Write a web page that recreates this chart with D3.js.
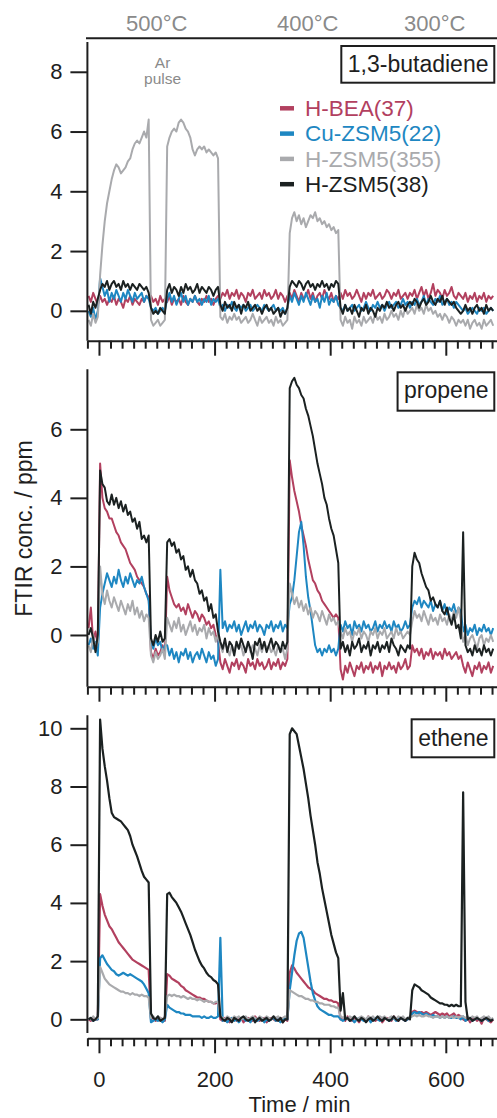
<!DOCTYPE html>
<html>
<head>
<meta charset="utf-8">
<style>
body { margin: 0; background: #fff; }
svg { display: block; font-family: "Liberation Sans", Arial, Helvetica, sans-serif; }
</style>
</head>
<body>
<svg width="497" height="1118"></svg>
<script src="https://d3js.org/d3.v7.min.js"></script>
<script>

// FTIR spectra, one value every 4 min starting at t = -18 min
var t0 = -18, dt = 4;

var series = ["H-BEA(37)", "Cu-ZSM5(22)", "H-ZSM5(355)", "H-ZSM5(38)"],
    colors = ["#b2405f", "#1e87c2", "#a9aaad", "#1b2121"];

var panelNames = ["1,3-butadiene", "propene", "ethene"];
var temps = ["500°C", "400°C", "300°C"],
    tempAt = [100, 361, 581];   // min
var pulseAt = 110;              // min, "Ar pulse" note
var xTicksMajor = [0, 200, 400, 600];
var yTicks = [[0, 2, 4, 6, 8], [0, 2, 4, 6], [0, 2, 4, 6, 8, 10]];

// ---- 1,3-butadiene (ppm)
var butaRed = [
  0.5, 0.3, 0.6, 0.4, 0.2,
  0.5, 0.3, 0.4, 0.2, 0.4, 0.3, 0.5, 0.2, 0.4, 0.3, 0.1, 0.4, 0.3, 0.5, 0.2, 0.4, 0.3, 0.2, 0.4, 0.3, 0.5, 0.4,
  0.5, 0.3, 0.4, 0.2, 0.5, 0.3, 0.4,
  0.3, 0.5, 0.2, 0.4, 0.3, 0.4, 0.2, 0.5, 0.3, 0.2, 0.4, 0.3, 0.5, 0.3, 0.2, 0.4, 0.3, 0.5, 0.3, 0.4, 0.2, 0.4, 0.5,
  0.4, 0.6, 0.5, 0.7, 0.4, 0.6, 0.5, 0.7, 0.4, 0.6, 0.5, 0.3, 0.6, 0.5, 0.7, 0.4, 0.5, 0.6, 0.4, 0.7, 0.5, 0.6, 0.4, 0.5, 0.7, 0.4, 0.6, 0.5, 0.3, 0.5,
  0.6, 0.4, 0.7, 0.5, 0.3, 0.6, 0.4, 0.5, 0.7, 0.4, 0.6, 0.3, 0.5, 0.6, 0.4, 0.7, 0.5, 0.4, 0.6, 0.3, 0.5, 0.4,
  0.6, 0.4, 0.7, 0.5, 0.6, 0.4, 0.5, 0.7, 0.5, 0.3, 0.6, 0.4, 0.6, 0.5, 0.7, 0.4, 0.5, 0.6, 0.4, 0.5, 0.7, 0.6, 0.4, 0.6, 0.5, 0.7, 0.4, 0.5, 0.6, 0.4, 0.6,
  0.5, 0.7, 0.4, 0.6, 0.8, 0.5, 0.7, 0.4, 0.6, 0.9, 0.5, 0.7, 0.6, 0.4, 0.7, 0.5, 0.6, 0.8, 0.5, 0.4, 0.6, 0.5,
  0.4, 0.6, 0.3, 0.5, 0.4, 0.6, 0.3, 0.5, 0.4, 0.6, 0.3, 0.5, 0.4, 0.5
];
var butaBlue = [
  0.0, -0.2, 0.1, -0.3, 0.0,
  1.1, 0.8, 0.5, 0.7, 0.3, 0.6, 0.4, 0.7, 0.5, 0.3, 0.6, 0.4, 0.7, 0.5, 0.3, 0.6, 0.4, 0.5, 0.6, 0.3, 0.5, 0.4,
  0.1, 0.0, 0.1, -0.1, 0.0, 0.1, 0.0,
  0.4, 0.6, 0.3, 0.5, 0.2, 0.4, 0.6, 0.3, 0.5, 0.2, 0.4, 0.3, 0.5, 0.3, 0.4, 0.2, 0.4, 0.3, 0.5, 0.2, 0.4, 0.3, 0.4,
  0.1, 0.2, 0.0, 0.2, 0.1, 0.3, 0.1, 0.0, 0.2, 0.1, 0.2, 0.0, 0.1, 0.2, 0.0, 0.1, 0.2, 0.1, 0.0, 0.2, 0.1, 0.0, 0.1, 0.2, 0.0, 0.1, 0.0, 0.1, -0.1, 0.1,
  0.5, 0.3, 0.6, 0.4, 0.2, 0.5, 0.3, 0.6, 0.4, 0.2, 0.5, 0.3, 0.4, 0.1, 0.5, 0.3, 0.6, 0.2, 0.4, 0.3, 0.5, 0.2,
  0.1, 0.0, 0.2, 0.0, 0.1, 0.2, 0.0, 0.1, 0.2, 0.0, 0.1, 0.3, 0.1, 0.0, 0.2, 0.1, 0.3, 0.1, 0.2, 0.0, 0.2, 0.3, 0.1, 0.2, 0.3, 0.1, 0.2, 0.4, 0.2, 0.3, 0.1,
  0.3, 0.2, 0.4, 0.2, 0.3, 0.5, 0.2, 0.4, 0.3, 0.2, 0.4, 0.3, 0.5, 0.2, 0.3, 0.4, 0.2, 0.3, 0.1, 0.3, 0.2, 0.1,
  0.0, 0.1, -0.1, 0.0, 0.1, 0.0, -0.1, 0.1, 0.0, 0.1, -0.1, 0.0, 0.1, 0.0
];
var butaGray = [
  -0.3, -0.5, -0.1, -0.4, -0.2,
  1.2, 2.2, 3.0, 3.6, 4.0, 4.4, 4.7, 4.9, 4.8, 4.6, 4.7, 4.8, 5.0, 5.1, 5.4, 5.6, 5.7, 5.6, 5.8, 6.0, 5.8, 6.4,
  -0.3, -0.5, -0.4, -0.3, -0.5, -0.4, -0.3,
  5.5, 5.8, 6.0, 6.1, 6.0, 6.3, 6.4, 6.3, 6.1, 6.0, 5.8, 5.4, 5.2, 5.4, 5.5, 5.4, 5.5, 5.3, 5.4, 5.3, 5.2, 5.3, 5.1,
  -0.2, -0.3, -0.1, -0.4, -0.2, -0.3, -0.1, -0.3, -0.2, -0.4, -0.3, -0.2, -0.4, -0.3, -0.1, -0.3, -0.5, -0.2, -0.4, -0.3, -0.2, -0.4, -0.3, -0.5, -0.2, -0.4, -0.3, -0.5, -0.4, -0.3,
  2.6, 3.1, 3.3, 3.0, 3.2, 2.9, 3.1, 2.8, 3.0, 3.2, 3.1, 3.3, 3.0, 3.1, 2.9, 3.0, 2.8, 2.9, 2.7, 2.8, 2.6, 2.7,
  -0.3, -0.5, -0.2, -0.4, -0.3, -0.6, -0.2, -0.4, -0.3, -0.5, -0.2, -0.4, -0.3, -0.2, -0.4, -0.1, -0.3, -0.2, -0.4, -0.1, -0.3, -0.2, 0.0, -0.2, -0.1, -0.3, 0.0, -0.2, 0.1, -0.1, 0.0,
  0.1, -0.1, 0.2, 0.0, 0.1, -0.1, 0.2, 0.0, 0.1, -0.1, 0.0, -0.2, -0.1, -0.3, -0.1, -0.2, -0.4, -0.2, -0.3, -0.5, -0.3, -0.4,
  -0.3, -0.5, -0.3, -0.6, -0.4, -0.3, -0.5, -0.4, -0.6, -0.3, -0.5, -0.4, -0.3, -0.5
];
var butaBlack = [
  0.2, -0.1, 0.3, 0.1, 0.4,
  0.7, 0.9, 0.8, 1.0, 0.7, 0.9, 1.0, 0.8, 0.9, 0.7, 1.0, 0.8, 0.9, 0.7, 0.9, 0.8, 0.7, 0.9, 0.8, 0.7, 0.8, 0.6,
  0.1, -0.1, 0.0, -0.1, 0.1, 0.0, -0.1,
  0.7, 0.9, 0.6, 0.8, 0.7, 0.5, 0.8, 0.6, 0.9, 0.7, 0.8, 0.6, 0.7, 0.9, 0.6, 0.8, 0.7, 0.6, 0.8, 0.7, 0.5, 0.7, 0.8,
  0.2, 0.0, 0.3, 0.1, 0.2, 0.0, 0.3, 0.1, 0.2, -0.1, 0.2, 0.1, 0.3, 0.0, 0.1, 0.2, 0.0, 0.1, -0.1, 0.1, 0.2, 0.0, 0.1, -0.1, 0.0, 0.1, -0.2, 0.0, -0.1, 0.1,
  0.8, 1.0, 0.9, 0.8, 1.0, 0.9, 0.7, 0.9, 1.0, 0.8, 0.9, 0.7, 0.9, 0.8, 1.0, 0.8, 0.9, 0.7, 0.9, 0.8, 1.0, 0.9,
  0.1, -0.1, 0.2, 0.0, 0.1, -0.1, 0.2, 0.0, -0.2, 0.1, 0.0, 0.2, -0.1, 0.1, 0.0, -0.2, 0.1, 0.0, 0.2, 0.1, 0.3, 0.1, 0.2, 0.0, 0.2, 0.3, 0.1, 0.2, 0.0, 0.2, 0.3,
  0.2, 0.4, 0.3, 0.1, 0.3, 0.4, 0.2, 0.3, 0.5, 0.3, 0.2, 0.4, 0.3, 0.5, 0.2, 0.4, 0.3, 0.2, 0.3, 0.1, 0.0, -0.1,
  0.0, 0.2, 0.0, 0.1, -0.1, 0.1, 0.2, 0.0, 0.1, -0.1, 0.2, 0.0, 0.1, 0.0
];

// ---- propene (ppm)
var propRed = [
  0.2, 0.8, -0.2, 0.1, -0.3,
  5.0, 4.0, 3.7, 3.6, 3.4, 3.4, 3.2, 3.0, 2.9, 2.7, 2.6, 2.5, 2.3, 2.1, 2.0, 1.9, 1.7, 1.6, 1.5, 1.4, 1.2, 1.1,
  -0.5, -0.7, -0.4, -0.6, -0.5, -0.3, -0.6,
  1.7, 1.3, 1.1, 0.9, 0.8, 0.9, 0.7, 0.8, 0.6, 0.9, 0.7, 0.5, 0.7, 0.6, 0.4, 0.6, 0.5, 0.3, 0.4, 0.2, 0.3, 0.0, -0.2,
  -0.8, -1.0, -0.7, -0.9, -1.1, -0.8, -0.9, -0.7, -1.0, -0.8, -0.9, -1.1, -0.7, -0.9, -0.8, -1.0, -0.7, -0.9, -0.8, -1.0, -0.9, -0.7, -1.0, -0.8, -0.9, -0.7, -1.0, -0.8, -0.9, -0.7,
  5.1, 4.6, 4.2, 3.9, 3.6, 3.2, 2.9, 2.6, 2.2, 1.9, 1.6, 1.5, 1.3, 1.2, 1.0, 0.9, 0.8, 0.7, 0.6, 0.5, 0.6, 0.5,
  -1.0, -1.3, -0.9, -1.1, -0.8, -1.0, -1.2, -0.9, -1.0, -0.8, -1.1, -0.9, -1.0, -0.8, -1.1, -0.9, -1.0, -0.8, -1.2, -0.9, -1.0, -0.8, -1.0, -0.9, -1.1, -0.8, -1.0, -0.9, -0.7, -1.0, -0.9,
  -0.3, -0.5, -0.4, -0.6, -0.4, -0.7, -0.5, -0.6, -0.4, -0.7, -0.5, -0.6, -0.5, -0.7, -0.4, -0.6, -0.5, -0.7, -0.6, -0.5, -0.7, -0.6,
  -0.9, -1.1, -0.8, -1.0, -1.2, -0.9, -1.0, -0.8, -1.1, -0.9, -1.0, -0.8, -1.1, -0.9
];
var propBlue = [
  -0.3, -0.1, -0.4, -0.2, -0.6,
  0.8, 1.2, 1.5, 1.8, 1.6, 1.4, 1.7, 1.5, 1.9, 1.6, 1.4, 1.7, 1.5, 1.8, 1.6, 1.4, 1.6, 1.5, 1.7, 1.4, 1.2, 1.0,
  -0.2, -0.4, -0.1, -0.3, -0.2, -0.5, -0.3,
  -0.3, -0.6, -0.4, -0.7, -0.5, -0.8, -0.5, -0.6, -0.4, -0.7, -0.5, -0.8, -0.6, -0.5, -0.7, -0.4, -0.6, -0.8, -0.5, -0.7, -0.6, -0.9, -0.7,
  1.9, 0.2, 0.4, 0.1, 0.3, 0.2, 0.4, 0.1, 0.3, 0.0, 0.2, 0.4, 0.1, 0.3, 0.2, 0.4, 0.1, 0.3, 0.2, 0.0, 0.3, 0.2, 0.4, 0.1, 0.3, 0.2, 0.4, 0.1, 0.3, 0.2,
  0.9, 1.1, 1.6, 2.3, 3.0, 3.3, 2.6, 1.7, 1.1, 0.7, 0.2, -0.3, -0.5, -0.4, -0.6, -0.4, -0.5, -0.3, -0.5, -0.4, -0.6, -0.4,
  0.3, 0.1, 0.4, 0.2, 0.3, 0.0, 0.4, 0.2, 0.3, 0.1, 0.4, 0.2, 0.3, 0.1, 0.2, 0.4, 0.1, 0.3, 0.2, 0.4, 0.2, 0.3, 0.1, 0.4, 0.2, 0.3, 0.1, 0.2, 0.4, 0.2, 0.3,
  0.8, 1.0, 0.9, 1.1, 0.8, 1.0, 0.9, 0.8, 1.0, 0.7, 0.9, 0.8, 1.0, 0.7, 0.9, 0.6, 0.8, 0.7, 0.9, 0.6, 0.8, 0.7,
  0.1, 0.3, 0.0, 0.2, 0.1, 0.3, 0.0, 0.2, 0.1, 0.3, 0.1, 0.2, 0.0, 0.2
];
var propGray = [
  -0.3, -0.5, 0.0, -0.4, -0.2,
  2.0, 1.2, 0.9, 1.3, 1.0, 0.8, 1.1, 0.9, 0.7, 1.0, 0.8, 0.6, 0.9, 0.7, 1.0, 0.6, 0.8, 0.5, 0.7, 0.4, 0.6, 0.5,
  -0.6, -0.8, -0.5, -0.7, -0.6, -0.4, -0.7,
  0.5, 0.3, 0.1, 0.4, 0.2, 0.5, 0.1, 0.3, 0.0, 0.2, 0.4, 0.1, 0.3, 0.0, 0.2, 0.1, 0.3, -0.1, 0.2, 0.0, 0.1, -0.2, 0.0,
  -0.3, -0.5, -0.2, -0.4, -0.6, -0.3, -0.5, -0.2, -0.4, -0.3, -0.6, -0.4, -0.2, -0.5, -0.3, -0.4, -0.6, -0.3, -0.5, -0.2, -0.4, -0.3, -0.5, -0.4, -0.6, -0.3, -0.5, -0.4, -0.7, -0.4,
  1.5, 1.2, 0.9, 1.1, 0.8, 1.0, 0.7, 0.9, 0.6, 0.8, 0.5, 0.7, 0.6, 0.4, 0.7, 0.5, 0.3, 0.6, 0.4, 0.5, 0.3, 0.4,
  0.1, -0.1, 0.2, 0.0, 0.1, -0.2, 0.1, 0.0, 0.2, -0.1, 0.1, 0.0, -0.2, 0.1, 0.0, 0.2, -0.1, 0.1, 0.0, 0.2, -0.1, 0.0, 0.1, -0.1, 0.2, 0.0, 0.1, -0.1, 0.0, 0.1, 0.0,
  0.4, 0.7, 0.5, 0.6, 0.4, 0.7, 0.5, 0.3, 0.6, 0.4, 0.5, 0.3, 0.6, 0.4, 0.5, 0.3, 0.6, 0.4, 0.7, 0.5, 0.8, 0.4,
  -0.2, 0.0, -0.3, -0.1, 0.0, -0.2, -0.4, -0.1, 0.0, -0.3, -0.1, -0.2, 0.0, -0.2
];
var propBlack = [
  0.0, 0.2, -0.1, -0.5, 0.0,
  4.8, 4.4, 4.3, 3.9, 3.8, 4.1, 3.8, 4.0, 3.7, 3.9, 3.6, 3.8, 3.5, 3.6, 3.3, 3.4, 3.1, 3.3, 2.8, 2.9, 2.7, 2.9,
  -0.1, -0.3, 0.0, -0.2, 0.1, -0.2, -0.1,
  2.7, 2.8, 2.6, 2.7, 2.4, 2.5, 2.2, 2.3, 1.9, 2.0, 1.7, 1.9, 1.6, 1.5, 1.2, 1.3, 1.0, 1.1, 0.7, 0.9, 0.5, 0.6, 0.1,
  -0.2, -0.4, -0.1, -0.5, -0.2, -0.3, -0.6, -0.2, -0.4, -0.1, -0.3, -0.5, -0.2, -0.4, -0.7, -0.2, -0.3, -0.1, -0.4, -0.2, -0.5, -0.3, -0.1, -0.4, -0.2, -0.3, -0.5, -0.2, -0.4, -0.2,
  7.2, 7.4, 7.5, 7.3, 7.2, 7.0, 6.9, 6.6, 6.4, 6.1, 5.8, 5.4, 5.0, 4.7, 4.4, 4.0, 3.8, 3.4, 3.1, 2.9, 2.5, 2.1,
  -0.4, -0.2, -0.5, -0.3, -0.6, -0.2, -0.4, -0.3, -0.1, -0.5, -0.3, -0.4, -0.2, -0.6, -0.3, -0.4, -0.2, -0.5, -0.3, -0.4, -0.2, -0.5, -0.1, -0.3, -0.4, -0.6, -0.3, -0.4, -0.5, -0.3, -0.4,
  2.0, 2.4, 2.2, 2.1, 1.8, 1.6, 1.4, 1.3, 1.0, 1.1, 0.9, 0.8, 1.0, 0.7, 0.6, 0.8, 0.5, 0.3, 0.6, 0.2, 0.3, -0.1,
  3.0, -0.3, -0.5, -0.4, -0.6, -0.3, -0.5, -0.4, -0.6, -0.3, -0.5, -0.4, -0.6, -0.4
];

// ---- ethene (ppm)
var ethRed = [
  0.0, -0.05, 0.05, 0.0, 0.0,
  4.3, 3.9, 3.6, 3.4, 3.2, 3.1, 2.95, 2.8, 2.65, 2.55, 2.45, 2.35, 2.25, 2.15, 2.05, 2.0, 1.95, 1.9, 1.85, 1.8, 1.75, 1.7,
  0.0, 0.05, -0.05, 0.0, 0.05, 0.0, -0.05,
  1.55, 1.5, 1.4, 1.35, 1.3, 1.25, 1.15, 1.1, 1.0, 0.95, 0.9, 0.85, 0.8, 0.75, 0.75, 0.7, 0.7, 0.65, 0.6, 0.6, 0.55, 0.55, 0.6,
  0.0, -0.05, 0.05, 0.0, -0.1, 0.0, 0.05, -0.05, 0.0, 0.05, -0.1, 0.0, 0.05, 0.0, -0.05, 0.1, 0.0, -0.05, 0.0, 0.05, -0.1, 0.0, 0.05, 0.0, -0.05, 0.0, 0.05, -0.1, 0.0, -0.05,
  1.6, 1.85, 1.75, 1.6, 1.5, 1.4, 1.3, 1.2, 1.1, 1.05, 1.0, 0.9, 0.85, 0.8, 0.75, 0.7, 0.7, 0.65, 0.65, 0.6, 0.6, 0.55,
  0.0, 0.05, -0.05, 0.1, 0.0, -0.05, 0.05, 0.0, -0.1, 0.05, 0.0, -0.05, 0.1, 0.0, 0.05, -0.05, 0.0, 0.05, -0.1, 0.0, 0.05, 0.0, -0.05, 0.1, 0.0, -0.05, 0.05, 0.0, -0.05, 0.0, 0.05,
  0.25, 0.3, 0.25, 0.2, 0.25, 0.2, 0.25, 0.2, 0.15, 0.2, 0.25, 0.2, 0.15, 0.2, 0.15, 0.2, 0.1, 0.15, 0.2, 0.1, 0.15, 0.1,
  0.0, -0.05, 0.05, -0.1, 0.0, 0.05, -0.05, 0.0, -0.15, 0.05, 0.0, -0.05, -0.1, 0.0
];
var ethBlue = [
  0.0, 0.05, -0.05, 0.0, 0.0,
  2.1, 2.2, 2.05, 1.9, 1.8, 1.7, 1.65, 1.55, 1.5, 1.55, 1.6, 1.55, 1.5, 1.55, 1.5, 1.45, 1.4, 1.35, 1.3, 1.2, 1.05, 0.9,
  -0.1, -0.05, 0.0, -0.05, 0.0, -0.1, 0.0,
  0.5, 0.4, 0.35, 0.3, 0.25, 0.25, 0.2, 0.2, 0.15, 0.15, 0.15, 0.1, 0.1, 0.1, 0.1, 0.05, 0.1, 0.05, 0.05, 0.1, 0.05, 0.05, 0.1,
  2.8, -0.05, 0.0, -0.1, 0.0, 0.05, -0.05, 0.0, -0.1, 0.0, 0.05, -0.05, 0.0, -0.1, 0.05, 0.0, -0.05, 0.0, 0.05, -0.1, 0.0, -0.05, 0.0, 0.05, -0.05, 0.0, -0.1, 0.0, 0.05, 0.0,
  1.0, 1.6, 2.2, 2.7, 2.95, 3.0, 2.8, 2.3, 1.8, 1.3, 0.9, 0.65, 0.45, 0.35, 0.3, 0.25, 0.2, 0.15, 0.15, 0.1, 0.1, 0.1,
  0.0, -0.05, 0.0, 0.05, -0.05, 0.0, -0.1, 0.0, 0.05, 0.0, -0.05, 0.0, 0.05, -0.1, 0.0, 0.05, 0.0, -0.05, 0.0, 0.05, 0.0, -0.05, 0.0, 0.05, -0.05, 0.0, 0.05, 0.0, -0.05, 0.0, 0.05,
  0.2, 0.25, 0.2, 0.25, 0.2, 0.15, 0.2, 0.15, 0.1, 0.15, 0.1, 0.1, 0.05, 0.1, 0.05, 0.1, 0.05, 0.05, 0.1, 0.05, 0.05, 0.0,
  0.1, -0.05, 0.0, 0.05, -0.05, 0.0, 0.05, 0.0, -0.05, 0.0, 0.05, -0.05, 0.0, 0.0
];
var ethGray = [
  0.05, 0.0, 0.1, 0.0, 0.05,
  1.8, 1.6, 1.4, 1.3, 1.2, 1.15, 1.1, 1.05, 1.0, 0.95, 0.95, 0.9, 0.9, 0.85, 0.9, 0.85, 0.85, 0.8, 0.85, 0.8, 0.8, 0.75,
  0.05, 0.1, 0.0, 0.1, 0.05, 0.0, 0.1,
  0.8, 0.85, 0.8, 0.85, 0.8, 0.8, 0.75, 0.8, 0.75, 0.7, 0.75, 0.7, 0.7, 0.65, 0.7, 0.65, 0.6, 0.65, 0.6, 0.6, 0.55, 0.6, 0.6,
  0.1, 0.05, 0.0, 0.1, 0.05, 0.0, 0.1, 0.05, 0.1, 0.0, 0.05, 0.1, 0.0, 0.05, 0.1, 0.05, 0.0, 0.1, 0.05, 0.0, 0.1, 0.05, 0.0, 0.1, 0.05, 0.1, 0.0, 0.05, 0.1, 0.05,
  1.0, 0.95, 0.9, 0.85, 0.8, 0.8, 0.75, 0.7, 0.7, 0.65, 0.65, 0.6, 0.6, 0.55, 0.55, 0.5, 0.5, 0.5, 0.45, 0.45, 0.4, 0.4,
  0.1, 0.05, 0.1, 0.0, 0.1, 0.05, 0.1, 0.0, 0.05, 0.1, 0.05, 0.0, 0.1, 0.05, 0.1, 0.0, 0.05, 0.1, 0.05, 0.1, 0.0, 0.05, 0.1, 0.05, 0.0, 0.1, 0.05, 0.1, 0.0, 0.05, 0.1,
  0.1, 0.15, 0.1, 0.15, 0.1, 0.1, 0.15, 0.1, 0.1, 0.05, 0.1, 0.1, 0.05, 0.1, 0.05, 0.1, 0.05, 0.1, 0.05, 0.1, 0.05, 0.1,
  0.1, 0.05, 0.1, 0.0, 0.1, 0.05, 0.1, 0.0, 0.05, 0.1, 0.05, 0.1, 0.0, 0.05
];
var ethBlack = [
  0.0, 0.05, -0.05, 0.0, 0.1,
  10.3, 9.3, 8.7, 8.2, 7.6, 7.1, 6.95, 6.9, 6.85, 6.8, 6.7, 6.6, 6.5, 6.3, 6.0, 5.8, 5.6, 5.35, 5.1, 4.9, 4.8, 4.7,
  0.2, 0.05, 0.0, 0.1, -0.05, 0.0, 0.05,
  4.3, 4.35, 4.2, 4.1, 4.0, 3.85, 3.7, 3.5, 3.3, 3.1, 2.9, 2.65, 2.4, 2.2, 2.0, 1.85, 1.75, 1.6, 1.5, 1.45, 1.35, 1.3, 1.2,
  0.1, 0.0, -0.05, 0.05, 0.0, -0.1, 0.05, 0.0, -0.05, 0.05, 0.1, 0.0, -0.05, 0.0, 0.05, -0.1, 0.0, 0.05, -0.05, 0.0, 0.05, -0.05, 0.0, 0.1, 0.0, -0.05, 0.05, -0.1, 0.0, 0.0,
  9.8, 10.0, 9.9, 9.8, 9.4, 9.0, 8.6, 8.1, 7.6, 7.0, 6.5, 6.0, 5.4, 5.0, 4.5, 4.1, 3.7, 3.3, 2.9, 2.6, 2.3, 2.1,
  0.3, 0.9, 0.0, 0.05, -0.05, 0.0, 0.1, 0.0, -0.05, 0.05, 0.0, -0.1, 0.0, 0.05, -0.05, 0.0, 0.1, 0.0, -0.05, 0.05, 0.0, -0.05, 0.0, 0.1, 0.0, -0.05, 0.05, 0.0, -0.05, 0.05, 0.0,
  1.0, 1.2, 1.15, 1.1, 1.0, 0.95, 0.9, 0.85, 0.75, 0.7, 0.65, 0.6, 0.55, 0.55, 0.5, 0.5, 0.45, 0.5, 0.45, 0.5, 0.45, 0.45,
  7.8, 0.6, 0.0, 0.05, -0.05, 0.0, 0.05, 0.0, -0.05, 0.0, 0.05, 0.0, -0.05, 0.0
];

var panelData = [
  [butaRed, butaBlue, butaGray, butaBlack],
  [propRed, propBlue, propGray, propBlack],
  [ethRed, ethBlue, ethGray, ethBlack]
];

// ---------------------------------------------------------------
var svg = d3.select("svg"),
    ink = "#1e1e1e",
    grey = "#8a8a8a";

svg.append("rect").attr("width", 497).attr("height", 1118).attr("fill", "#fff");

var x = d3.scaleLinear().domain([-20, 700]).range([87.4, 503.6]);

// panel layout (pixels)
var layout = [
  {dom: [-1, 9],       top: 41.9,  bottom: 340.7, axisY: 340.7,  leftEnd: 340.7, boxY: 46,    boxH: 36.7, base: 71.7, lw: 2},
  {dom: [-1.5, 7.75],  top: 369.3, bottom: 686.4, axisY: 686.7,  leftEnd: 686.7, boxY: 372.3, boxH: 38.4, base: 398.3, lw: 2},
  {dom: [-0.47, 10.45],top: 715.2, bottom: 1033,  axisY: 1038.3, leftEnd: 1033,  boxY: 719.3, boxH: 38,   base: 746, lw: 2.2}
];

var minorTicks = d3.range(-20, 701, 20).filter(function(d) { return xTicksMajor.indexOf(d) < 0; });

layout.forEach(function(L, p) {
  var y = d3.scaleLinear().domain(L.dom).range([L.bottom, L.top]);
  var g = svg.append("g");

  // traces
  var line = d3.line()
      .x(function(d, i) { return x(t0 + i * dt); })
      .y(function(d) { return y(d); });
  panelData[p].forEach(function(vals, s) {
    g.append("path")
        .datum(vals)
        .attr("d", line)
        .attr("fill", "none")
        .attr("stroke", colors[s])
        .attr("stroke-width", L.lw)
        .attr("stroke-linejoin", "round");
  });

  // left axis
  var ya = g.append("g")
      .attr("transform", "translate(" + x(-20) + ",0)")
      .call(d3.axisLeft(y).tickValues(yTicks[p]).tickSize(17).tickSizeOuter(0).tickPadding(8));
  ya.select(".domain").remove();
  ya.append("line").attr("x1", 0).attr("x2", 0).attr("y1", L.top).attr("y2", L.leftEnd);

  // bottom axis: minor + major ticks
  g.append("g")
      .attr("transform", "translate(0," + L.axisY + ")")
      .call(d3.axisBottom(x).tickValues(minorTicks).tickSize(8).tickSizeOuter(0).tickFormat(""));
  var xb = g.append("g")
      .attr("transform", "translate(0," + L.axisY + ")")
      .call(d3.axisBottom(x).tickValues(xTicksMajor).tickSize(15).tickSizeOuter(0).tickPadding(18)
        .tickFormat(p === 2 ? d3.format("d") : ""));
  xb.select(".domain").remove();

  g.selectAll(".tick text").attr("font-size", 22).attr("fill", ink)
      .attr("font-family", "'Liberation Sans', Arial, sans-serif");
  g.selectAll(".tick line, .domain, g > line").attr("stroke", ink).attr("stroke-width", 2);

  // name box
  var lab = g.append("text")
      .attr("x", 488.5).attr("y", L.base)
      .attr("text-anchor", "end")
      .attr("font-size", 23)
      .attr("fill", ink)
      .text(panelNames[p]);
  var bb = lab.node().getBBox();
  g.append("rect")
      .attr("x", bb.x - 6.5).attr("y", L.boxY)
      .attr("width", 494.3 - (bb.x - 6.5)).attr("height", L.boxH)
      .attr("fill", "none").attr("stroke", ink).attr("stroke-width", 2);
});

// top frame line + temperatures
svg.append("line")
    .attr("x1", 86).attr("x2", 497).attr("y1", 38.3).attr("y2", 38.3)
    .attr("stroke", ink).attr("stroke-width", 2);
svg.selectAll(".temp").data(temps).enter().append("text")
    .attr("class", "temp")
    .attr("x", function(d, i) { return x(tempAt[i]); })
    .attr("y", 30.7)
    .attr("text-anchor", "middle")
    .attr("font-size", 22)
    .attr("fill", grey)
    .text(function(d) { return d; });

// Ar pulse note
var note = svg.append("text")
    .attr("text-anchor", "middle")
    .attr("font-size", 15.5)
    .attr("fill", grey);
note.append("tspan").attr("x", x(pulseAt)).attr("y", 68.3).text("Ar");
note.append("tspan").attr("x", x(pulseAt)).attr("y", 83.5).text("pulse");

// legend
var leg = svg.selectAll(".leg").data(series).enter().append("g")
    .attr("class", "leg")
    .attr("transform", function(d, i) { return "translate(0," + (108.3 + i * 25.3) + ")"; });
leg.append("line")
    .attr("x1", 280).attr("x2", 294)
    .attr("stroke", function(d, i) { return colors[i]; })
    .attr("stroke-width", 4.5);
leg.append("text")
    .attr("x", 305).attr("y", 7.8)
    .attr("font-size", 22.5)
    .attr("fill", function(d, i) { return colors[i]; })
    .text(function(d) { return d; });

// axis titles
svg.append("text")
    .attr("transform", "translate(32,528.5) rotate(-90)")
    .attr("text-anchor", "middle")
    .attr("font-size", 23)
    .attr("fill", ink)
    .text("FTIR conc. / ppm");
svg.append("text")
    .attr("x", 299.5).attr("y", 1112)
    .attr("text-anchor", "middle")
    .attr("font-size", 22)
    .attr("fill", ink)
    .text("Time / min");

</script>
</body>
</html>
